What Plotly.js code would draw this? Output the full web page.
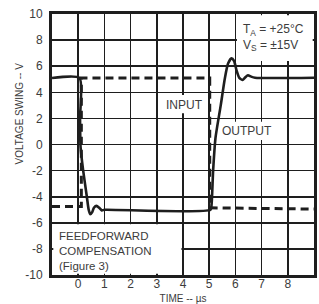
<!DOCTYPE html>
<html>
<head>
<meta charset="utf-8">
<script src="https://cdn.plot.ly/plotly-3.0.1.min.js"></script>
<style>html,body{margin:0;padding:0;background:#fff;}#chart{width:319px;height:304px;}</style>
</head>
<body>
<div id="chart"></div>
<script>
// ---- data ----
const inputTime  = [-1, 0.12, 0.12, 5.02, 5.02, 9];
const inputVolts = [-4.75, -4.75, 5.1, 5.1, -4.85, -4.95];

const outputTime  = [-1, 0.05, 0.07, 0.09, 0.19, 0.33, 0.40, 0.46, 0.53, 0.60, 0.70, 0.80, 0.90, 1.0,
                     5.05, 5.09, 5.15, 5.24, 5.44, 5.60, 5.72, 5.85, 5.95, 6.04, 6.15, 6.28, 6.38, 6.48, 6.6, 6.75, 9];
const outputVolts = [5.1, 5.1, 2, -0.2, -2, -4, -5.0, -5.35, -5.2, -4.85, -4.7, -4.85, -5.05, -5.0,
                     -5.0, -4.6, -2, 0.5, 3.0, 5.1, 6.2, 6.6, 6.4, 5.7, 5.1, 4.95, 5.15, 5.3, 5.2, 5.12, 5.12];

const xTickVals = [0, 1, 2, 3, 4, 5, 6, 7, 8];
const xTickText = ['0', '1', '2', '3', '4', '5', '6', '7', '8'];
const yTickVals = [-10, -8, -6, -4, -2, 0, 2, 4, 6, 8, 10];
const yTickText = ['-10', '-8', '-6', '-4', '-2', '0', '2', '4', '6', '8', '10'];

const xTitle = 'TIME -- µs';
const yTitle = 'VOLTAGE SWING -- V';
const condText = 'T<sub>A</sub> = +25°C<br>V<sub>S</sub> = ±15V';
const compText = 'FEEDFORWARD<br>COMPENSATION<br>(Figure 3)';
const inputLabel = 'INPUT';
const outputLabel = 'OUTPUT';

const ink = '#1e1e1e';
const textInk = '#3c3c3c';
const fontFam = 'Liberation Sans, Arial, sans-serif';

const traces = [
  {x: inputTime, y: inputVolts, mode: 'lines', name: 'Input',
   line: {color: ink, width: 3, dash: '8px,5px'}, hoverinfo: 'skip'},
  {x: outputTime, y: outputVolts, mode: 'lines', name: 'Output',
   line: {color: ink, width: 2.6, shape: 'spline', smoothing: 0.6}, hoverinfo: 'skip'}
];

const layout = {
  width: 319, height: 304,
  margin: {l: 52, r: 5, t: 14, b: 29},
  paper_bgcolor: '#fff', plot_bgcolor: '#fff',
  showlegend: false,
  font: {family: fontFam, color: textInk, size: 12},
  xaxis: {
    range: [-1, 9], tickvals: xTickVals, ticktext: xTickText,
    showgrid: true, gridcolor: ink, gridwidth: 1.6, zeroline: false,
    showline: true, mirror: true, linecolor: ink, linewidth: 3,
    ticks: '', ticklabelstandoff: -4,
    tickfont: {size: 12, color: textInk},
    title: {text: xTitle, font: {size: 10, color: textInk}, standoff: 13}
  },
  yaxis: {
    range: [-10, 10], tickvals: yTickVals, ticktext: yTickText,
    showgrid: true, gridcolor: ink, gridwidth: 1.6, zeroline: false,
    showline: true, mirror: true, linecolor: ink, linewidth: 3,
    ticks: '', ticklabelstandoff: 4,
    tickfont: {size: 12, color: textInk},
    title: {text: ''}
  },
  shapes: [
    {type: 'rect', layer: 'between', xref: 'x', yref: 'y', x0: -0.95, x1: 3.94, y0: -9.9, y1: -6.12,
     fillcolor: '#fff', line: {width: 0}},
    {type: 'rect', layer: 'between', xref: 'x', yref: 'y', x0: 6.06, x1: 8.95, y0: 6.4, y1: 9.9,
     fillcolor: '#fff', line: {width: 0}},
    {type: 'rect', layer: 'between', xref: 'x', yref: 'y', x0: 3.3, x1: 4.9, y0: 2.4, y1: 3.8,
     fillcolor: '#fff', line: {width: 0}},
    {type: 'rect', layer: 'between', xref: 'x', yref: 'y', x0: 5.4, x1: 7.5, y0: 0.35, y1: 1.75,
     fillcolor: '#fff', line: {width: 0}}
  ],
  annotations: [
    {text: condText, xref: 'x', yref: 'y', x: 6.2, y: 9.55, xanchor: 'left', yanchor: 'top',
     align: 'left', showarrow: false, font: {size: 12, color: textInk}},
    {text: compText, xref: 'x', yref: 'y', x: -0.8, y: -6.4, xanchor: 'left', yanchor: 'top',
     align: 'left', showarrow: false, font: {size: 11.5, color: textInk}},
    {text: inputLabel, xref: 'x', yref: 'y', x: 4.05, y: 3.05, showarrow: false,
     font: {size: 12, color: textInk}},
    {text: outputLabel, xref: 'x', yref: 'y', x: 6.45, y: 1.0, showarrow: false,
     font: {size: 12, color: textInk}},
    {text: yTitle, xref: 'paper', yref: 'paper', x: -0.125, y: 0.62, xanchor: 'center', yanchor: 'middle',
     textangle: -90, showarrow: false, font: {size: 10, color: textInk}}
  ]
};

Plotly.newPlot('chart', traces, layout, {staticPlot: true, displayModeBar: false});
</script>
</body>
</html>
